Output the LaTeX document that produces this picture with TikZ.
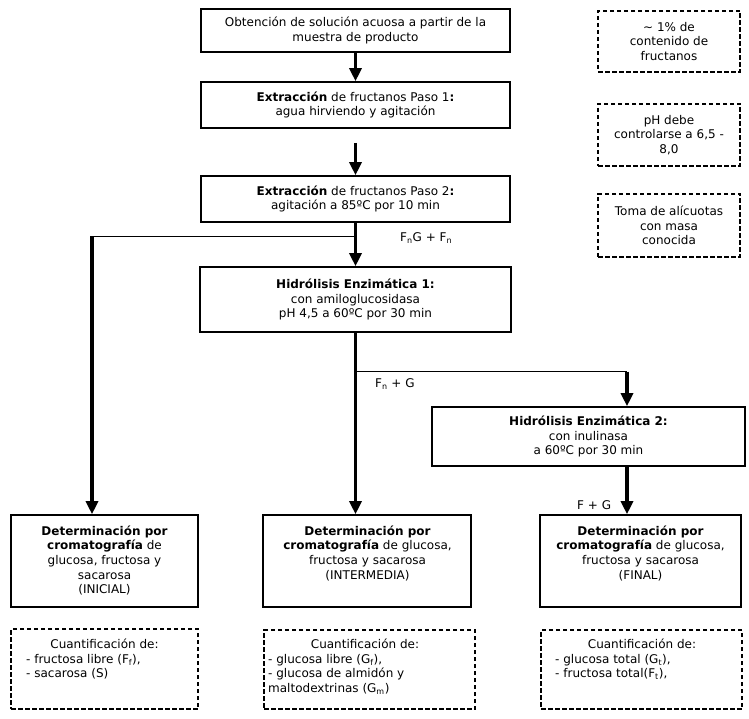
\documentclass[tikz,border=0pt]{standalone}
\usepackage{fontspec}
\setmainfont{DejaVu Sans}
\usetikzlibrary{arrows.meta}
\begin{document}
\begin{tikzpicture}[x=1pt,y=-1pt,
  every node/.style={font=\fontsize{12}{14.6}\selectfont, text=black},
  box/.style={draw, line width=1.6pt, inner sep=0pt, align=center},
  dbox/.style={draw, line width=2.4pt, dash pattern=on 4.5pt off 2.5pt, inner sep=0pt, align=center},
  flow/.style={line width=3.2pt, -{Triangle[width=12pt,length=13pt]}},
  thinline/.style={line width=1.5pt},
  lbl/.style={anchor=west, inner sep=0pt},
  txt/.style={inner sep=0pt, align=center},
  lst/.style={inner sep=0pt, align=left, anchor=north west},
]
\useasboundingbox (0,0) rectangle (749,719);

% main boxes
\node[box, minimum width=309pt, minimum height=43pt] (b1) at (355.5,30.5)
  {Obtención de solución acuosa a partir de la\\muestra de producto};
\node[box, minimum width=309pt, minimum height=46pt] (b2) at (355.5,105)
  {\textbf{Extracción} de fructanos Paso 1\textbf{:}\\agua hirviendo y agitación};
\node[box, minimum width=309pt, minimum height=46pt] (b3) at (355.5,199)
  {\textbf{Extracción} de fructanos Paso 2\textbf{:}\\agitación a 85ºC por 10 min};
\node[box, minimum width=311pt, minimum height=65pt] (h1) at (355.5,299.5)
  {\textbf{Hidrólisis Enzimática 1:}\\con amiloglucosidasa\\pH 4,5 a 60ºC por 30 min};
\node[box, minimum width=313pt, minimum height=59pt] (h2) at (588.5,436.5)
  {\textbf{Hidrólisis Enzimática 2:}\\con inulinasa\\a 60ºC por 30 min};

% side notes
\node[dbox, minimum width=142pt, minimum height=61pt] (n1) at (669,41.5)
  {\textasciitilde{} 1\% de\\contenido de\\fructanos};
\node[dbox, minimum width=142pt, minimum height=62pt] (n2) at (669,135)
  {pH debe\\controlarse a 6,5 -\\8,0};
\node[dbox, minimum width=142pt, minimum height=63pt] (n3) at (669,225.5)
  {Toma de alícuotas\\con masa\\conocida};

% determination boxes
\node[box, minimum width=187pt, minimum height=92pt] (d1) at (104.5,561) {};
\node[box, minimum width=208pt, minimum height=92pt] (d2) at (367,561) {};
\node[box, minimum width=201pt, minimum height=92pt] (d3) at (640.5,561) {};
\node[txt, anchor=north] (d1t) at (104.5,525.5)
  {\textbf{Determinación por}\\\textbf{cromatografía} de\\glucosa, fructosa y\\sacarosa\\(INICIAL)};
\node[txt, anchor=north] (d2t) at (367.5,525.5)
  {\textbf{Determinación por}\\\textbf{cromatografía} de glucosa,\\fructosa y sacarosa\\(INTERMEDIA)};
\node[txt, anchor=north] (d3t) at (640.5,525.5)
  {\textbf{Determinación por}\\\textbf{cromatografía} de glucosa,\\fructosa y sacarosa\\(FINAL)};

% quantification boxes
\node[dbox, minimum width=187pt, minimum height=80pt] (q1) at (104.5,669) {};
\node[dbox, minimum width=211pt, minimum height=79pt] (q2) at (369.5,669.5) {};
\node[dbox, minimum width=201pt, minimum height=79pt] (q3) at (641.5,669.5) {};
\node[txt, anchor=base] (q1h) at (104.5,648) {Cuantificación de:};
\node[txt, anchor=base] (q2h) at (365,648) {Cuantificación de:};
\node[txt, anchor=base] (q3h) at (642,648) {Cuantificación de:};
\node[lst] (q1l) at (26,654) {- fructosa libre (F\textsubscript{f}),\\- sacarosa (S)};
\node[lst] (q2l) at (268,654) {- glucosa libre (G\textsubscript{f}),\\- glucosa de almidón y\\maltodextrinas (G\textsubscript{m})};
\node[lst] (q3l) at (555,654) {- glucosa total (G\textsubscript{t}),\\- fructosa total(F\textsubscript{t}),};

% junctions
\coordinate (s2) at (355.5,143);
\coordinate (j1) at (355.5,236.5);
\coordinate (j1L) at (92,236.5);
\coordinate (j2) at (355.5,371.5);
\coordinate (j2R) at (627,371.5);

% connectors
\draw[flow] (b1.south) -- (b2.north);
\draw[flow] (s2) -- (b3.north);
\draw[flow] (b3.south) -- (h1.north);
\draw[thinline] (j1) -- (j1L);
\draw[flow] (j1L) -- (j1L |- d1.north);
\draw[flow] (h1.south) -- (h1.south |- d2.north);
\draw[thinline] (j2) -- (j2R);
\draw[flow] (j2R) -- (j2R |- h2.north);
\draw[flow] (j2R |- h2.south) -- (j2R |- d3.north);

% labels
\node[lbl] (l1) at (400,238) {F\textsubscript{n}G + F\textsubscript{n}};
\node[lbl] (l2) at (375,384) {F\textsubscript{n} + G};
\node[lbl] (l3) at (577,505) {F + G};
\end{tikzpicture}
\end{document}
